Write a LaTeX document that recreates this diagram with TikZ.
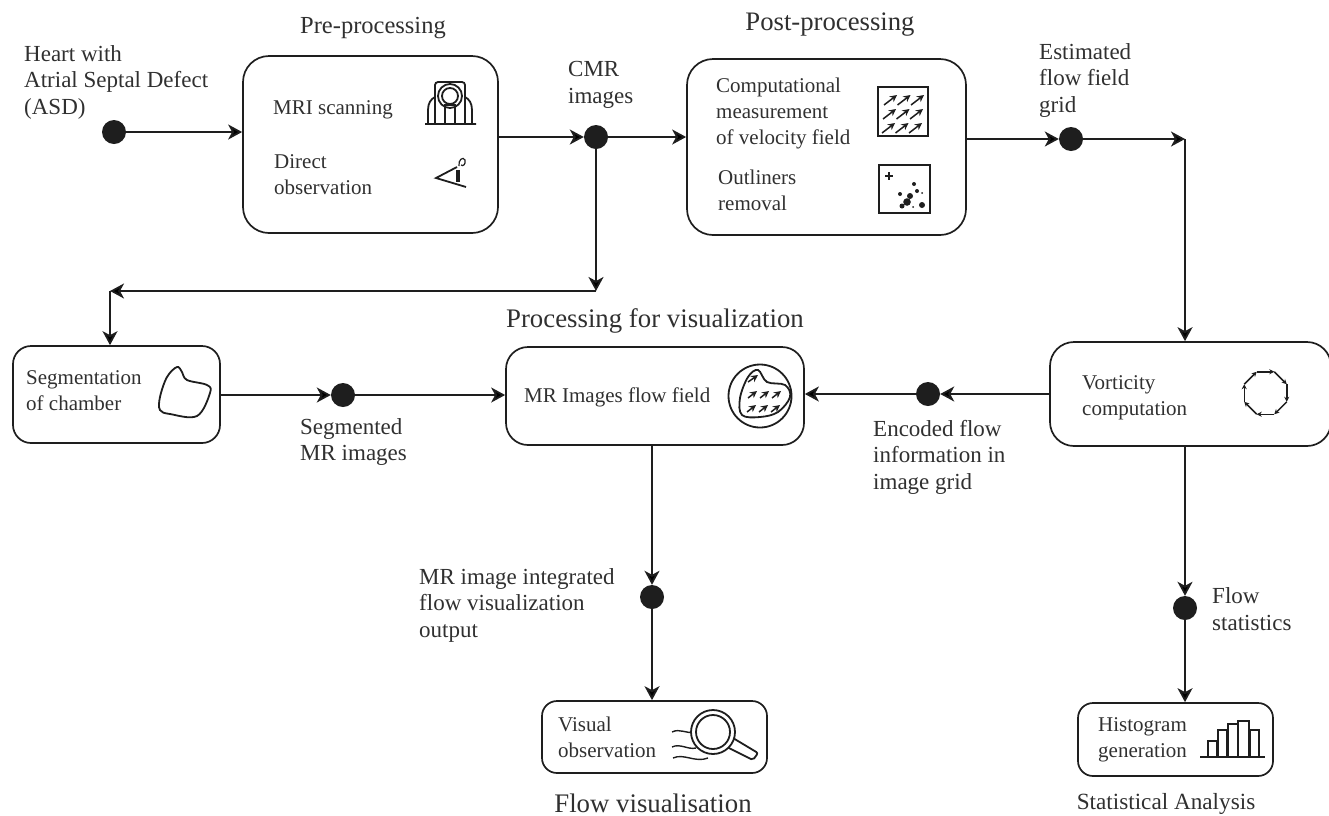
\documentclass[tikz,border=0pt]{standalone}
\usepackage{fontspec}
\setmainfont{Liberation Serif}
\usetikzlibrary{arrows.meta}
\definecolor{inkline}{HTML}{1E1E1E}
\definecolor{inktext}{HTML}{303030}
\tikzset{
  stagebox/.style={draw=inkline,line width=1.7pt,rounded corners=#1,inner sep=0pt},
  stagebox/.default=20pt,
  flowdot/.style={circle,fill=inkline,minimum size=24pt,inner sep=0pt},
  connector/.style={draw=inkline,line width=1.8pt,every edge/.append style={->}},
  bodytext/.style={font=\fontsize{21}{26}\selectfont,text=inktext,align=left,inner sep=0pt,anchor=west},
  outertext/.style={font=\fontsize{23}{26.5}\selectfont,text=inktext,align=left,inner sep=0pt,anchor=west},
  titletext/.style={font=\fontsize{#1}{28}\selectfont,text=inktext,inner sep=0pt},
  icon/.style={draw=inkline,line width=1.8pt},
  smallicon/.style={draw=inkline,line width=1.5pt,-{Stealth[length=7pt,width=7pt]}}
}
\begin{document}
\begin{tikzpicture}[x=1pt,y=-1pt,>={Stealth[length=14pt,width=15pt,inset=4pt]}]
    \useasboundingbox (0,0) rectangle (1329,815);
    \node[stagebox=26pt,minimum width=255pt,minimum height=177pt] (pre) at (370.5,144.5) {};
    \node[stagebox=26pt,minimum width=279pt,minimum height=176pt] (post) at (826.5,147) {};
    \node[stagebox=18pt,minimum width=207pt,minimum height=97pt] (seg) at (116.5,394.5) {};
    \node[stagebox=22pt,minimum width=298pt,minimum height=98pt] (vis) at (655,396) {};
    \node[stagebox=24pt,minimum width=281pt,minimum height=104pt] (vort) at (1190.5,394) {};
    \node[stagebox=15pt,minimum width=225pt,minimum height=72pt] (obs) at (654.5,737) {};
    \node[stagebox=15pt,minimum width=195pt,minimum height=73pt] (hist) at (1175.5,739.5) {};

    \node[flowdot] (heart) at (114,132) {};
    \node[flowdot] (cmr) at (596,137) {};
    \node[flowdot] (grid) at (1071,139) {};
    \node[flowdot] (segm) at (343,395) {};
    \node[flowdot] (enc) at (928,394) {};
    \node[flowdot] (out) at (652,597) {};
    \node[flowdot] (stat) at (1185,608) {};
    \coordinate (gridturn) at (1185,139);
    \coordinate (cmrturn) at (596,291);
    \coordinate (segturn) at (110,291);

    \node[titletext=24.5] (pretitle) at (373,28) {Pre-processing};
    \node[titletext=26.7] (posttitle) at (830,25) {Post-processing};
    \node[titletext=26.8] (vistitle) at (655,321) {Processing for visualization};
    \node[titletext=26.8] (obstitle) at (653,803) {Flow visualisation};
    \node[titletext=23.2] (histtitle) at (1166,804) {Statistical Analysis};

    \node[outertext] (heartlabel) at (24,82) {Heart with\\Atrial Septal Defect\\(ASD)};
    \node[bodytext] (mri) at (273,110) {MRI scanning};
    \node[bodytext] (direct) at (274,175) {Direct\\observation};
    \node[outertext] (cmrlabel) at (568,85) {CMR\\images};
    \node[bodytext] (comp) at (716,113) {Computational\\measurement\\of velocity field};
    \node[bodytext] (outl) at (718,190) {Outliners\\removal};
    \node[outertext] (gridlabel) at (1039,80) {Estimated\\flow field\\grid};
    \node[bodytext] (seglabel) at (26,391) {Segmentation\\of chamber};
    \node[outertext] (segmlabel) at (300,442) {Segmented\\MR images};
    \node[bodytext] (vislabel) at (524,397) {MR Images flow field};
    \node[outertext] (enclabel) at (873,457) {Encoded flow\\information in\\image grid};
    \node[bodytext] (vortlabel) at (1082,398) {Vorticity\\computation};
    \node[outertext] (outlabel) at (419,605) {MR image integrated\\flow visualization\\output};
    \node[outertext] (statlabel) at (1212,609) {Flow\\statistics};
    \node[bodytext] (obslabel) at (558,737) {Visual\\observation};
    \node[bodytext] (histlabel) at (1098,740) {Histogram\\generation};

    \draw[connector]
      (heart) edge (heart -| pre.west)
      (pre.east |- cmr) edge (cmr)
      (cmr) edge (cmr -| post.west)
      (post.east |- grid) edge (grid)
      (grid) edge (gridturn)
      (gridturn) edge (gridturn |- vort.north)
      (cmr) edge (cmrturn)
      (cmrturn) edge (segturn)
      (segturn) edge (segturn |- seg.north)
      (seg.east |- segm) edge (segm)
      (segm) edge (segm -| vis.west)
      (vort.west |- enc) edge (enc)
      (enc) edge (enc -| vis.east)
      (vis.south -| out) edge (out)
      (out) edge (out |- obs.north)
      (vort.south -| stat) edge (stat)
      (stat) edge (stat |- hist.north);

    \draw[icon] (425,124) -- (476,124)
      (428,124) -- (428,110) .. controls (428,103) and (431,99) .. (435,97)
      (472,124) -- (472,110) .. controls (472,103) and (469,99) .. (465,97)
      (445,124) -- (445,105) -- (455,105) -- (455,124);
    \draw[icon,rounded corners=3pt] (435,124) -- (435,82) -- (465,82) -- (465,124);
    \draw[icon] (450,96) circle (12pt) (450,96) circle (8pt);
    \draw[icon] (457,167) -- (436,178) -- (466,187);
    \draw[inkline,line width=4pt] (458,170) -- (458,182);
    \draw[icon,line width=1.2pt] (459,166) .. controls (458,160) and (463,156) .. (465,160) .. controls (466,164) and (463,167) .. (461,165);

    \draw[icon] (878,87) rectangle (928,136);
    \foreach \col in {0,1,2}
      \foreach \row in {0,1,2}
        \draw[smallicon] ({884+\col*13.5-\row*1},{105+\row*14}) -- ({897+\col*13.5-\row*1},{95+\row*14});
    \draw[icon] (879,165) rectangle (930,213);
    \draw[icon] (885,176) -- (893,176) (889,172) -- (889,180);
    \foreach \dotx/\doty/\dotr in {907/202/3.8,910/196/3,900/194/2,914/184/2,917/191/2,922/193/1,922/205/3,902/206/2.5,913/207/1}
      \fill[inkline] (\dotx,\doty) circle (\dotr pt);

    \draw[icon] (760,396) circle (31.5pt);
    \draw[icon] plot[smooth cycle,tension=0.6] coordinates {(758,370) (748,377) (740,398) (742,415) (760,417) (778,412) (790,397) (785,385) (767,382)};
    \draw[smallicon] (748,382) -- (758,375);
    \foreach \col in {0,1,2}
      \foreach \row in {0,1}
        \draw[smallicon] ({748+\col*12-\row},{398+\row*14}) -- ({757+\col*12-\row},{391+\row*14});

    \foreach \angl in {22.5,67.5,...,337.5}
      \draw[smallicon,-{Stealth[length=5pt,width=5pt]}] ({1265.5+23*cos(\angl)},{393-23*sin(\angl)}) -- ({1265.5+23*cos(\angl-45)},{393-23*sin(\angl-45)});

    \draw[icon] plot[smooth cycle,tension=0.6] coordinates {(177,367) (167,377) (160,397) (160,410) (170,414) (197,416) (210,393) (207,385) (187,380) (182,372)};

    \draw[icon,line width=1.4pt] (672,732) .. controls (680,728) and (686,734) .. (694,732)
      (672,747) .. controls (680,743) and (688,750) .. (696,748)
      (673,758) .. controls (684,753) and (695,763) .. (708,758);
    \draw[icon,rounded corners=2pt,fill=white] (733,738) -- (758,753) -- (753,760) -- (727,747);
    \draw[icon,fill=white] (713,732) circle (22pt);
    \draw[icon] (713,732) circle (17pt);

    \draw[icon,line width=2.2pt] (1200,757) -- (1265,757);
    \foreach \barx/\barw/\bary in {1208/9/741,1218/9/730,1228/10/724,1238/11/721,1250/9/730}
      \draw[icon] (\barx,757) rectangle ++(\barw,\bary-757);
\end{tikzpicture}
\end{document}
